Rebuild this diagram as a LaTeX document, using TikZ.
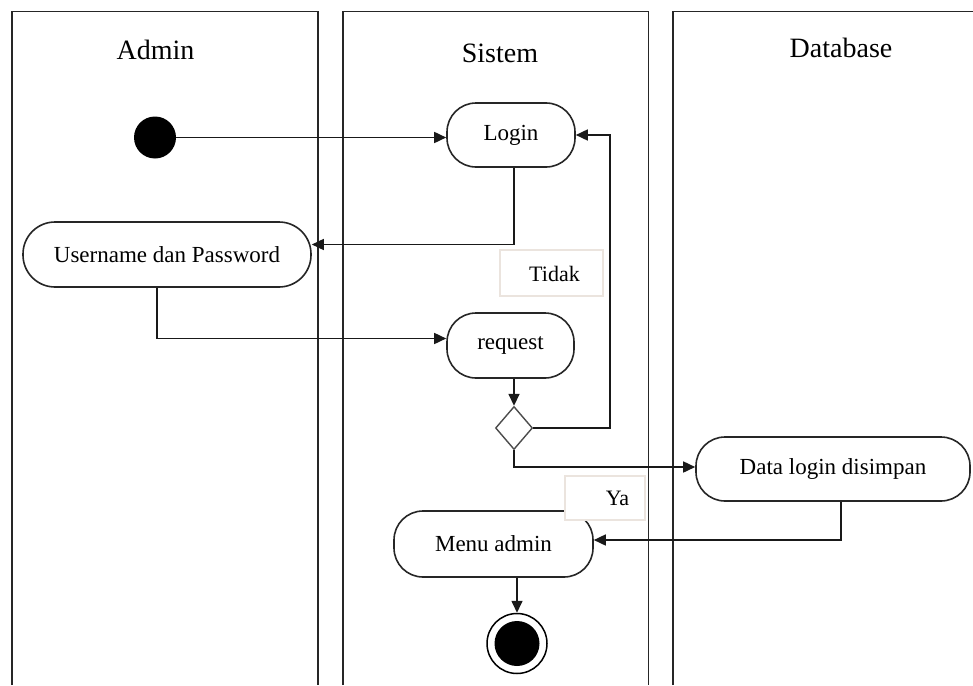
\documentclass[tikz,border=0pt]{standalone}
\usepackage{fontspec}
\setmainfont{Liberation Serif}
\usetikzlibrary{arrows.meta,shapes.geometric}
\tikzset{
  lane/.style={line width=1.8pt, draw=black!85},
  act/.style={draw=black!85, line width=1.6pt, rectangle, rounded corners=29pt, fill=white,
    minimum height=64pt, inner sep=0pt, font=\fontsize{23}{26}\selectfont},
  title/.style={font=\fontsize{28}{32}\selectfont, inner sep=0pt},
  arr/.style={line width=1.6pt, draw=black!90, -{Triangle[length=12pt,width=11pt]}},
  lbl/.style={draw=black!6!white!90!brown, line width=1.2pt, fill=white, inner sep=0pt,
    font=\fontsize{22}{26}\selectfont},
}
\begin{document}
\begin{tikzpicture}[x=1pt,y=-1pt]
\useasboundingbox (0,0) rectangle (973,685);
\fill[white] (0,0) rectangle (973,685);
% swimlanes
\draw[lane] (12,685) -- (12,11.5) -- (318,11.5) -- (318,685);
\draw[lane] (343,685) -- (343,11.5) -- (648.5,11.5) -- (648.5,685);
\draw[lane] (673,685) -- (673,11.5) -- (973,11.5);
\node[title] (tadmin) at (155.5,50) {Admin};
\node[title] (tsistem) at (500,53) {Sistem};
\node[title] (tdb) at (841,48) {Database};
% nodes
\node[circle, fill=black, minimum size=42pt, inner sep=0pt] (start) at (155,137.5) {};
\node[act, minimum width=128pt] (login) at (511,135) {Login};
\node[act, minimum width=288pt, minimum height=65pt, rounded corners=32pt] (user) at (167,254.5) {Username dan Password};
\node[act, minimum width=127pt, minimum height=65pt] (request) at (510.5,345.5) {request};
\node[diamond, draw=black!70, line width=1.4pt, fill=white, minimum width=37pt, minimum height=43pt, inner sep=0pt] (dec) at (514,428) {};
\node[act, minimum width=274pt] (data) at (833,469) {Data login disimpan};
\node[act, minimum width=199pt, minimum height=66pt] (menu) at (493.5,544) {Menu admin};
\node[circle, draw, line width=1.5pt, fill=white, minimum size=60pt, inner sep=0pt] (end) at (517,643.5) {};
\fill (end.center) circle[radius=22.5pt];
% connectors
\coordinate (loopx) at (610,428);
\draw[arr] (start) -- (start -| login.west);
\draw[arr] ([xshift=3pt]login.south) |- ([yshift=10pt]user.east);
\draw[arr] ([xshift=-10pt]user.south) |- ([yshift=7pt]request.west);
\draw[arr] (dec.north |- request.south) -- (dec.north);
\draw[arr] (dec.east) -- (loopx) |- (login.east);
\draw[arr] (dec.south) |- ([yshift=2pt]data.west);
\draw[arr] ([xshift=8pt]data.south) |- ([yshift=4pt]menu.east);
\draw[arr] (end.north |- menu.south) -- (end.north);
% guard labels
\node[lbl, minimum width=103pt, minimum height=46pt] (tidak) at (551.5,273) {};
\node[font=\fontsize{22}{26}\selectfont, inner sep=0pt] (tidaktxt) at (554.5,274) {Tidak};
\node[lbl, minimum width=80pt, minimum height=44pt] (ya) at (605,498) {};
\node[font=\fontsize{22}{26}\selectfont, inner sep=0pt] (yatxt) at (617.5,498) {Ya};
\end{tikzpicture}
\end{document}
